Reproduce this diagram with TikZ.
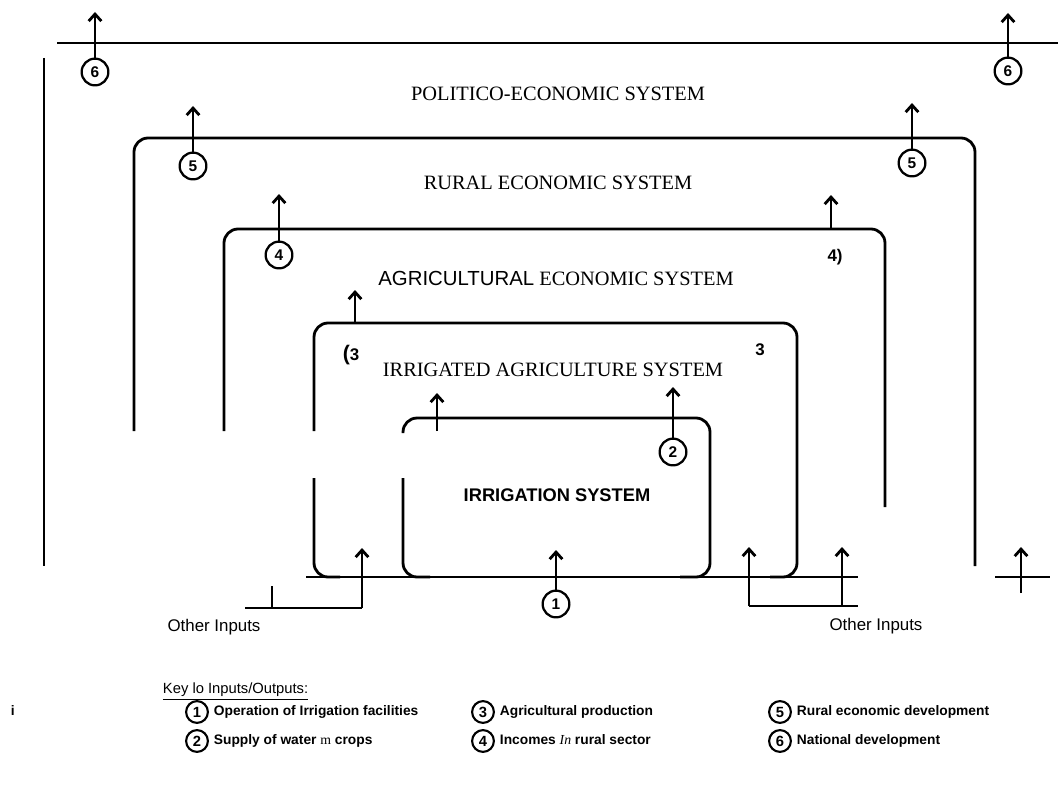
\documentclass[tikz,border=0pt]{standalone}
\usepackage{fontspec}
\setmainfont{Liberation Serif}
\setsansfont{Liberation Sans}
\usetikzlibrary{arrows.meta}
\tikzset{
  sysline/.style={line width=2pt, rounded corners=10pt},
  plainline/.style={line width=2pt},
  outflow/.style={-{Straight Barb[length=5pt,width=9pt]}, line width=2pt},
  numcirc/.style={
    circle, draw, line width=1.6pt, fill=white, inner sep=0pt,
    minimum size=19pt, font=\sffamily\bfseries\fontsize{11}{11}\selectfont
  },
  keycirc/.style={
    circle, draw, line width=1.5pt, inner sep=0pt,
    minimum size=15.5pt, font=\sffamily\bfseries\fontsize{10.5}{11}\selectfont
  },
  syslabel/.style={font=\rmfamily\fontsize{14.5}{14.5}\selectfont},
  marklabel/.style={font=\sffamily\bfseries\fontsize{12}{12}\selectfont},
  inlabel/.style={font=\sffamily\fontsize{12}{13}\selectfont},
  keytext/.style={anchor=west, text height=1.6ex, text depth=.4ex,
    font=\sffamily\bfseries\fontsize{9.8}{11}\selectfont}
}

\begin{document}
\begin{tikzpicture}[x={(0.025cm,0)}, y={(0,-0.025cm)}]
  \useasboundingbox (0,0) rectangle (1062,788);

  % system boundaries
  \draw[plainline] (57,43) -- (1058,43);
  \draw[plainline] (44,58) -- (44,566);
  \draw[sysline] (134,431) -- (134,138) -- (975,138) -- (975,566);
  \draw[sysline] (224,431) -- (224,229) -- (885,229) -- (885,507);
  \draw[sysline] (314,431) -- (314,323) -- (797,323) -- (797,577) -- (770,577);
  \draw[sysline] (314,478) -- (314,577) -- (340,577);
  \draw[sysline] (403,433) -- (403,418) -- (710,418) -- (710,577) -- (680,577);
  \draw[sysline] (403,478) -- (403,577) -- (430,577);
  \draw[plainline] (306,577) -- (858,577);

  \node[syslabel] (lpol) at (558,94) {POLITICO-ECONOMIC SYSTEM};
  \node[syslabel] (lrur) at (558,183) {RURAL ECONOMIC SYSTEM};
  \node[syslabel] (lagr) at (556,278) {\textsf{AGRICULTURAL} ECONOMIC SYSTEM};
  \node[syslabel] (lirra) at (553,370) {IRRIGATED AGRICULTURE SYSTEM};
  \node[font=\sffamily\bfseries\fontsize{13}{13}\selectfont] (lirr) at (557,495) {IRRIGATION SYSTEM};

  % outputs
  \node[numcirc] (c6l) at (95,72) {6};
  \node[numcirc] (c6r) at (1008,71) {6};
  \node[numcirc] (c5l) at (193,166) {5};
  \node[numcirc] (c5r) at (912,163) {5};
  \node[numcirc] (c4l) at (279,255) {4};
  \node[numcirc] (c2) at (673,452) {2};
  \node[marklabel] (n4r) at (835,257) {4)};
  \node[marklabel] (n3l) at (351,355) {\fontsize{15}{15}\selectfont(\fontsize{12}{12}\selectfont3};
  \node[marklabel] (n3r) at (760,350) {3};

  \coordinate (t6l) at (95,12);
  \coordinate (t6r) at (1008,13);
  \coordinate (t5l) at (193,106);
  \coordinate (t5r) at (912,103);
  \coordinate (t4l) at (279,194);
  \coordinate (s4r) at (831,229);
  \coordinate (t4r) at (831,195);
  \coordinate (s3l) at (355,323);
  \coordinate (t3l) at (355,290);
  \coordinate (s3m) at (437,431);
  \coordinate (t3m) at (437,393);
  \coordinate (t2) at (673,387);

  \draw[outflow] (c6l.north) -- (t6l);
  \draw[outflow] (c6r.north) -- (t6r);
  \draw[outflow] (c5l.north) -- (t5l);
  \draw[outflow] (c5r.north) -- (t5r);
  \draw[outflow] (c4l.north) -- (t4l);
  \draw[outflow] (s4r) -- (t4r);
  \draw[outflow] (s3l) -- (t3l);
  \draw[outflow] (s3m) -- (t3m);
  \draw[outflow] (c2.north) -- (t2);

  % inputs
  \node[numcirc] (c1) at (556,604) {1};
  \coordinate (t1) at (556,550);
  \draw[outflow] (c1.north) -- (t1);

  \coordinate (oil) at (245,608);
  \coordinate (oic) at (362,608);
  \coordinate (tick) at (272,586);
  \coordinate (til) at (362,548);
  \draw[plainline] (oil) -- (oic);
  \draw[plainline] (tick) -- (tick |- oil);
  \draw[outflow] (oic) -- (til);
  \node[inlabel] (oinl) at (214,627) {Other Inputs};

  \coordinate (oia) at (749,606);
  \coordinate (oib) at (842,606);
  \coordinate (oie) at (858,606);
  \coordinate (tia) at (749,547);
  \coordinate (tib) at (842,547);
  \draw[plainline] (oia) -- (oie);
  \draw[outflow] (oia) -- (tia);
  \draw[outflow] (oib) -- (tib);
  \node[inlabel] (oinr) at (876,626) {Other Inputs};

  \coordinate (pxa) at (995,577);
  \coordinate (pxb) at (1050,577);
  \coordinate (pxs) at (1021,593);
  \coordinate (pxt) at (1021,547);
  \draw[plainline] (pxa) -- (pxb);
  \draw[outflow] (pxs) -- (pxt);

  % key
  \node[keytext, font=\sffamily\fontsize{10.5}{11}\selectfont] (key) at (158,690) {\underline{Key lo Inputs/Outputs:}};
  \node[keytext] (stray) at (6,712) {i};
  \node[keycirc] (k1) at (197,712) {1};
  \node[keycirc] (k2) at (197,741) {2};
  \node[keycirc] (k3) at (483,712) {3};
  \node[keycirc] (k4) at (483,741) {4};
  \node[keycirc] (k5) at (780,712) {5};
  \node[keycirc] (k6) at (780,741) {6};
  \node[keytext] at (k1.east) {Operation of Irrigation facilities};
  \node[keytext] at (k2.east) {Supply of water {\rmfamily\mdseries m} crops};
  \node[keytext] at (k3.east) {Agricultural production};
  \node[keytext] at (k4.east) {Incomes {\rmfamily\mdseries\itshape In} rural sector};
  \node[keytext] at (k5.east) {Rural economic development};
  \node[keytext] at (k6.east) {National development};
\end{tikzpicture}
\end{document}
